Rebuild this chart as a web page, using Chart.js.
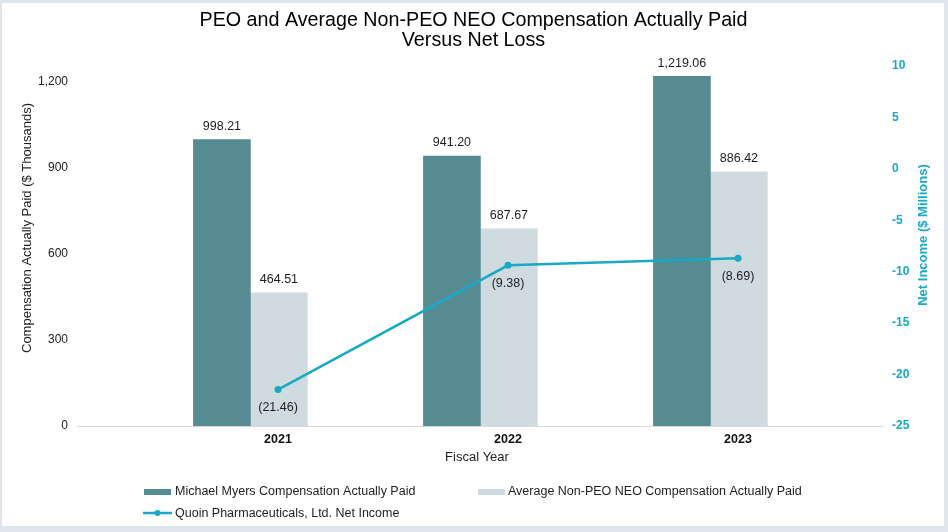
<!DOCTYPE html>
<html>
<head>
<meta charset="utf-8">
<script src="https://cdn.jsdelivr.net/npm/chart.js@4.4.1/dist/chart.umd.min.js"></script>
<style>
  html, body { margin: 0; padding: 0; background: #fff; }
  #wrap { width: 948px; height: 532px; }
</style>
</head>
<body>
<div id="wrap"><canvas id="myChart" width="948" height="532"></canvas></div>
<script>
// values
const years = ['2021', '2022', '2023'];
const peoComp = [998.21, 941.20, 1219.06];
const neoComp = [464.51, 687.67, 886.42];
const netIncome = [-21.46, -9.38, -8.69];
const leftTicks = [0, 300, 600, 900, 1200];

const DARK = '#578b92';
const LIGHT = '#cfdbdf';
const TEAL = '#18a9c4';
const FONT = '"Liberation Sans", Arial, Helvetica, sans-serif';
const BAR_SHIFT = 0.12; // bar pair sits left of the category tick

const ctx = document.getElementById('myChart').getContext('2d');

const fmtBar = v => v.toLocaleString('en-US', { minimumFractionDigits: 2, maximumFractionDigits: 2 });
const fmtLoss = v => v < 0 ? '(' + Math.abs(v).toFixed(2) + ')' : v.toFixed(2);

const decorations = {
  id: 'decorations',
  beforeDraw(chart) {
    const c = chart.ctx;
    c.save();
    c.fillStyle = '#dfe6ea';
    c.fillRect(0, 0, chart.width, chart.height);
    c.fillStyle = '#ffffff';
    c.fillRect(2, 3, 942, 523);
    c.restore();
  },
  afterDatasetsDraw(chart) {
    const c = chart.ctx;
    c.save();
    c.textAlign = 'center';
    c.textBaseline = 'middle';
    c.font = '12.5px ' + FONT;
    c.fillStyle = '#1e1e1e';
    [0, 1].forEach(di => {
      chart.getDatasetMeta(di).data.forEach((el, i) => {
        const v = chart.data.datasets[di].data[i].y;
        c.fillText(fmtBar(v), el.x, el.y - 13);
      });
    });
    chart.getDatasetMeta(2).data.forEach((el, i) => {
      c.fillText(fmtLoss(netIncome[i]), el.x, el.y + 18);
    });

    // title
    c.font = '19.7px ' + FONT;
    c.fillStyle = '#000';
    c.fillText('PEO and Average Non-PEO NEO Compensation Actually Paid', 473.5, 21);
    c.fillText('Versus Net Loss', 473.5, 41);

    // axis titles
    c.font = '13px ' + FONT;
    c.fillStyle = '#1e1e1e';
    c.fillText('Fiscal Year', 477, 457);
    c.save();
    c.translate(27, 228);
    c.rotate(-Math.PI / 2);
    c.fillText('Compensation Actually Paid ($ Thousands)', 0, 0);
    c.restore();
    c.save();
    c.translate(923, 235);
    c.rotate(-Math.PI / 2);
    c.font = 'bold 13px ' + FONT;
    c.fillStyle = TEAL;
    c.fillText('Net Income ($ Millions)', 0, 0);
    c.restore();

    // legend
    const ds = chart.data.datasets;
    c.font = '12.5px ' + FONT;
    c.textAlign = 'left';
    c.fillStyle = ds[0].backgroundColor;
    c.fillRect(144, 489, 27, 6);
    c.fillStyle = ds[1].backgroundColor;
    c.fillRect(478, 489, 27, 6);
    c.strokeStyle = ds[2].borderColor;
    c.lineWidth = 2.5;
    c.beginPath();
    c.moveTo(143, 513);
    c.lineTo(172, 513);
    c.stroke();
    c.fillStyle = ds[2].borderColor;
    c.beginPath();
    c.arc(157.5, 513, 3, 0, Math.PI * 2);
    c.fill();
    c.fillStyle = '#1e1e1e';
    c.fillText(ds[0].label, 175, 492);
    c.fillText(ds[1].label, 508, 492);
    c.fillText(ds[2].label, 175, 514);
    c.restore();
  }
};

new Chart(ctx, {
  type: 'bar',
  data: {
    datasets: [
      {
        label: 'Michael Myers Compensation Actually Paid',
        data: peoComp.map((v, i) => ({ x: i - BAR_SHIFT, y: v })),
        backgroundColor: DARK,
        yAxisID: 'y',
        barThickness: 57,
        order: 2
      },
      {
        label: 'Average Non-PEO NEO Compensation Actually Paid',
        data: neoComp.map((v, i) => ({ x: i - BAR_SHIFT, y: v })),
        backgroundColor: LIGHT,
        yAxisID: 'y',
        barThickness: 57,
        order: 2
      },
      {
        type: 'line',
        label: 'Quoin Pharmaceuticals, Ltd. Net Income',
        data: netIncome.map((v, i) => ({ x: i, y: v })),
        borderColor: TEAL,
        backgroundColor: TEAL,
        borderWidth: 2.5,
        pointRadius: 3.5,
        pointBorderWidth: 0,
        yAxisID: 'y1',
        order: 1
      }
    ]
  },
  options: {
    responsive: false,
    animation: false,
    devicePixelRatio: 1,
    layout: { padding: { top: 66, left: 0, right: 0, bottom: 0 } },
    plugins: {
      legend: { display: false },
      title: { display: false },
      tooltip: { enabled: false }
    },
    scales: {
      x: {
        type: 'linear',
        offset: false,
        min: -0.874,
        max: 2.626,
        grid: { display: false, drawTicks: false },
        border: { display: true, color: '#d9d9d9', width: 1 },
        afterBuildTicks: s => { s.ticks = years.map((_, i) => ({ value: i })); },
        afterFit: s => { s.height = 106; },
        ticks: {
          padding: 6,
          autoSkip: false,
          maxRotation: 0,
          color: '#111',
          font: { family: FONT, size: 12.5, weight: 'bold' },
          callback: v => years[v]
        }
      },
      y: {
        position: 'left',
        min: 0,
        max: 1255,
        grid: { display: false, drawTicks: false },
        border: { display: false },
        afterBuildTicks: s => { s.ticks = leftTicks.map(v => ({ value: v })); },
        afterFit: s => { s.width = 77; },
        ticks: {
          padding: 9,
          color: '#222',
          font: { family: FONT, size: 12 },
          callback: v => v.toLocaleString('en-US')
        }
      },
      y1: {
        position: 'right',
        min: -25,
        max: 10,
        grid: { display: false, drawTicks: false },
        border: { display: false },
        afterFit: s => { s.width = 66; },
        ticks: {
          stepSize: 5,
          padding: 10,
          color: TEAL,
          font: { family: FONT, size: 12, weight: 'bold' }
        }
      }
    }
  },
  plugins: [decorations]
});
</script>
</body>
</html>
